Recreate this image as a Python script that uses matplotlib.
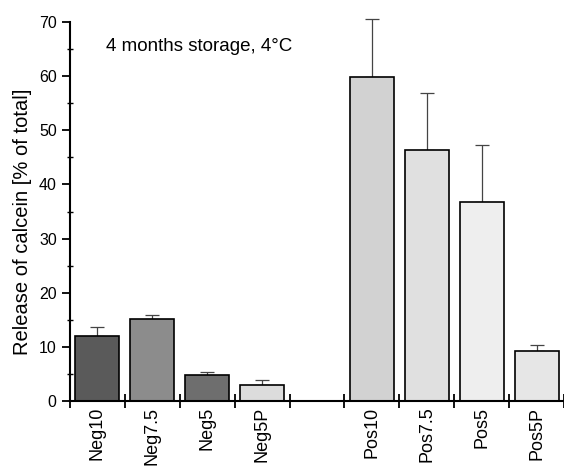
import numpy as np
import matplotlib.pyplot as plt
from matplotlib.ticker import MultipleLocator

plt.rcParams['font.family'] = ['Liberation Sans', 'DejaVu Sans']

# values
labels = ["Neg10", "Neg7.5", "Neg5", "Neg5P", "Pos10", "Pos7.5", "Pos5", "Pos5P"]
positions = [0, 1, 2, 3, 5, 6, 7, 8]
release = [12.0, 15.2, 4.8, 3.0, 59.8, 46.4, 36.8, 9.3]
err_up = [1.6, 0.7, 0.6, 0.9, 10.8, 10.5, 10.4, 1.1]
fills = ["#5a5a5a", "#8c8c8c", "#6e6e6e", "#dcdcdc",
         "#d2d2d2", "#e0e0e0", "#eeeeee", "#e6e6e6"]

fig = plt.figure(figsize=(5.64, 4.68), dpi=100)
ax = fig.add_axes([0.124, 0.143, 0.876, 0.81])

ax.bar(positions, release, width=0.8, color=fills, edgecolor="black", linewidth=1.2, zorder=2)
eb = ax.errorbar(positions, release, yerr=[np.zeros(len(release)), err_up], fmt="none",
                 ecolor="#444444", elinewidth=0.9, capsize=5, capthick=0.9, zorder=1)
for part in eb.lines[1] + eb.lines[2]:
    part.set_clip_on(False)

ax.set_xlim(-0.5, 8.5)
ax.set_ylim(0, 70)
ax.spines["top"].set_visible(False)
ax.spines["right"].set_visible(False)
ax.spines["left"].set_linewidth(1.5)
ax.spines["bottom"].set_linewidth(1.5)

# category boundaries get the tick marks, labels sit under the bars
ax.set_xticks(np.arange(-0.5, 9.0, 1.0))
ax.set_xticklabels([])
ax.set_xticks(positions, minor=True)
ax.set_xticklabels(labels, minor=True, rotation=90, fontsize=13)
ax.tick_params(axis="x", which="major", direction="inout", length=10, width=1.3)
ax.tick_params(axis="x", which="minor", length=0, pad=4)

ax.yaxis.set_major_locator(MultipleLocator(10))
ax.yaxis.set_minor_locator(MultipleLocator(5))
ax.tick_params(axis="y", which="major", direction="out", length=6, width=1.3, labelsize=11.5)
ax.tick_params(axis="y", which="minor", direction="inout", length=5, width=1.0)

ax.set_ylabel("Release of calcein [% of total]", fontsize=14.5)
ax.yaxis.set_label_coords(-0.077, 0.472)
ax.text(0.15, 65.4, "4 months storage, 4°C", fontsize=13.5, va="center", ha="left")

fig.savefig("out.png", dpi=100)
